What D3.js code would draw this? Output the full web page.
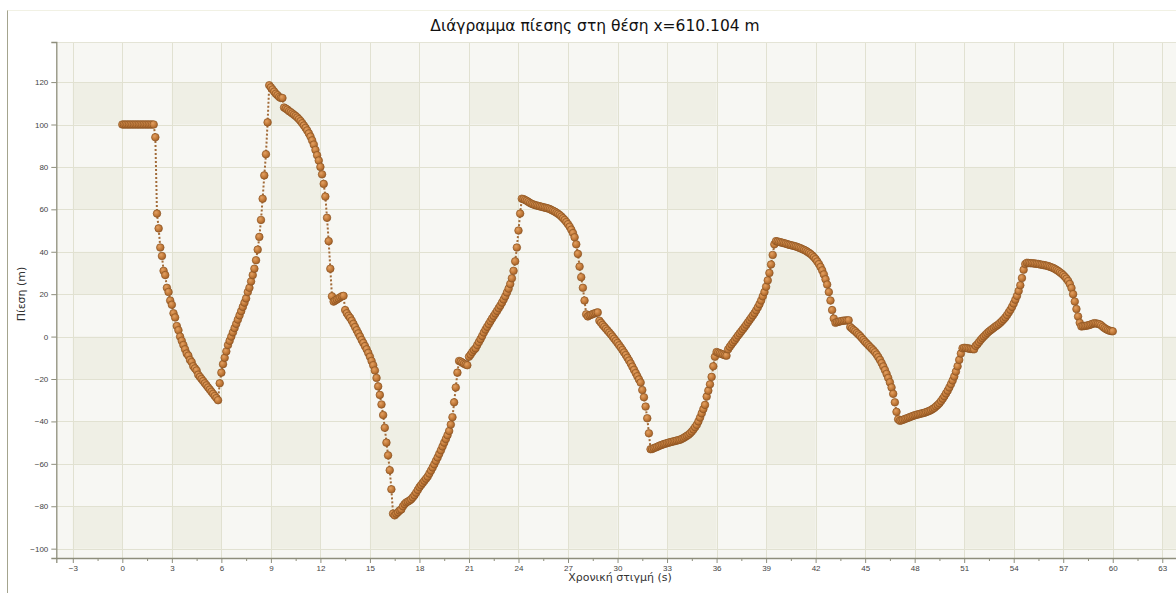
<!DOCTYPE html>
<html>
<head>
<meta charset="utf-8">
<script src="https://cdn.jsdelivr.net/npm/d3@7"></script>
<style>
  html, body { margin: 0; padding: 0; background: #ffffff; }
  svg { display: block; }
</style>
</head>
<body>
<svg id="chart"></svg>
<script>
// chart texts
const chartTitle = 'Διάγραμμα πίεσης στη θέση x=610.104 m'
const xLabel = 'Χρονική στιγμή (s)'
const yLabel = 'Πίεση (m)'

// sampling step of the pressure series (s)
const timeStep = 0.1

// pressure head (m), one row per second
const pressure = [
  100, 100, 100, 100, 100, 100, 100, 100, 100, 100,
  100, 100, 100, 100, 100, 100, 100, 100, 100, 100,
  94, 58, 51, 42, 38, 31, 29, 23, 21, 17,
  15, 11, 9, 5, 3, 0, -2, -4, -6, -8,
  -9, -11, -12, -14, -15, -16, -18, -19, -20, -21,
  -22, -23, -24, -25, -26, -27, -28, -29, -30, -22,
  -17, -13, -10, -7, -4, -2, 0, 2, 4, 6,
  8, 10, 12, 14, 16, 18, 21, 23, 26, 29,
  32, 36, 41, 47, 55, 65, 76, 86, 101, 118.5,
  117.5, 116.5, 115.5, 114.5, 113.8, 113, 112.5, 112.5, 108, 107.5,
  107, 106.3, 105.8, 105.2, 104.6, 104, 103.3, 102.5, 101.6, 100.6,
  99.5, 98.4, 97.2, 95.8, 94.3, 92.5, 90.5, 88, 85.5, 83,
  80, 76.5, 72, 66, 56, 45, 32, 19, 16.5, 17,
  17.5, 18, 18.5, 19, 19.2, 12.5, 11, 9.8, 8.8, 7.5,
  6, 4.5, 3, 1.5, 0, -1.6, -3, -4.5, -6, -7.7,
  -9.5, -11.5, -13.5, -16, -19.5, -23.5, -27.5, -32, -37, -43,
  -50, -56, -63, -72, -83.5, -84.3, -83.5, -82.8, -82, -81.5,
  -80, -79, -78.2, -77.8, -77.3, -76.7, -75.8, -74.8, -73.6, -72.3,
  -71, -70, -69, -68, -67, -66, -64.6, -63.2, -61.7, -60.2,
  -58.6, -57, -55.3, -53.6, -51.8, -50, -48.3, -46.5, -44.5, -41.5,
  -38, -31, -24, -17, -11.5, -11.8, -12.3, -12.8, -13.2, -13.5,
  -9.5, -8.5, -7.3, -6.3, -5.5, -4, -2.6, -1.2, 0.3, 1.9,
  3.3, 4.6, 5.9, 7.2, 8.5, 9.7, 10.9, 12.1, 13.4, 14.6,
  16, 17.5, 19, 20.8, 22.6, 24.8, 27.5, 31, 35.5, 42,
  50, 58, 65, 64.8, 64.4, 64, 63.5, 63, 62.6, 62.3,
  62, 61.8, 61.6, 61.4, 61.2, 61, 60.8, 60.6, 60.4, 60.1,
  59.7, 59.3, 58.9, 58.4, 57.9, 57.3, 56.6, 55.8, 55, 54,
  53, 51.8, 50.4, 48.8, 46.8, 43.5, 39, 33, 28, 23,
  17, 10.5, 9.5, 10, 10.3, 10.6, 10.9, 11.2, 11.4, 7.5,
  6.5, 5.5, 4.6, 3.7, 2.8, 1.9, 1, 0, -1, -2,
  -3, -4.1, -5.2, -6.3, -7.5, -8.7, -10, -11.3, -12.7, -14.2,
  -15.7, -17.2, -18.7, -20.2, -21.7, -25.2, -28.6, -33, -38.5, -45.6,
  -53.1, -53, -52.6, -52.3, -52, -51.6, -51.3, -51, -50.7, -50.5,
  -50.2, -50, -49.8, -49.6, -49.4, -49.2, -49, -48.8, -48.6, -48.2,
  -47.8, -47.3, -46.8, -46.3, -45.6, -44.8, -43.8, -42.7, -41.6, -40,
  -38.2, -36.2, -34.2, -32.2, -28.3, -25.5, -22.5, -19, -14, -9.5,
  -7.3, -7.6, -7.9, -8.2, -8.5, -8.8, -9, -6, -4.8, -3.7,
  -2.7, -1.7, -0.6, 0.5, 1.5, 2.5, 3.5, 4.5, 5.6, 6.7,
  7.8, 8.9, 10, 11.1, 12.4, 13.8, 15.3, 17, 19, 21,
  23.5, 26.5, 30, 34, 38.5, 43.5, 45, 44.8, 44.6, 44.4,
  44.2, 44, 43.8, 43.5, 43.3, 43.1, 42.9, 42.7, 42.5, 42.2,
  41.9, 41.6, 41.2, 40.9, 40.5, 40, 39.5, 38.9, 38.2, 37.4,
  36.5, 35.4, 34.2, 32.8, 31.2, 29.3, 27, 24.5, 21, 17,
  12.5, 8.5, 6.5, 6.8, 7, 7.2, 7.4, 7.5, 7.6, 7.6,
  7.7, 4.5, 3.8, 3.1, 2.5, 1.7, 1, 0.2, -0.7, -1.6,
  -2.5, -3.3, -4.1, -4.9, -5.7, -6.5, -7.4, -8.5, -9.7, -11,
  -12.5, -14.1, -15.8, -17.6, -19.5, -21.6, -24, -27, -31, -35.5,
  -39, -39.7, -39.5, -39.2, -38.9, -38.6, -38.3, -38, -37.7, -37.4,
  -37.1, -36.9, -36.7, -36.5, -36.3, -36.1, -35.9, -35.6, -35.3, -35,
  -34.6, -34.1, -33.6, -32.9, -32.2, -31.4, -30.4, -29.3, -28.1, -26.8,
  -25.5, -24, -22.4, -20.7, -18.8, -16.5, -14, -11, -8, -5.5,
  -5.3, -5.4, -5.5, -5.7, -5.8, -5.9, -6, -4.4, -3.6, -2.6,
  -1.6, -0.7, 0.1, 0.9, 1.7, 2.4, 3, 3.6, 4.2, 4.8,
  5.3, 5.9, 6.6, 7.4, 8.2, 9.1, 10.2, 11.4, 12.6, 14,
  15.6, 17.4, 19.2, 21.5, 24.2, 27.6, 31.5, 34.2, 34.8, 34.7,
  34.6, 34.6, 34.5, 34.4, 34.3, 34.2, 34, 33.9, 33.7, 33.6,
  33.4, 33.2, 32.9, 32.6, 32.3, 31.9, 31.4, 30.9, 30.3, 29.7,
  29, 28.2, 27.3, 26.2, 24.8, 22.9, 20, 16.5, 13, 9.5,
  6.5, 4.8, 4.9, 5, 5.1, 5.3, 5.5, 5.8, 6.1, 6.3,
  6.2, 6, 5.8, 5.3, 4.6, 4, 3.5, 3.1, 2.8, 2.6,
  2.5
]

// axis ticks
const xTicks = [-3, 0, 3, 6, 9, 12, 15, 18, 21, 24, 27, 30, 33, 36, 39, 42, 45, 48, 51, 54, 57, 60, 63]
const xMinorTicks = [-1.5, 1.5, 4.5, 7.5, 10.5, 13.5, 16.5, 19.5, 22.5, 25.5, 28.5, 31.5, 34.5, 37.5, 40.5, 43.5, 46.5, 49.5, 52.5, 55.5, 58.5, 61.5]
const yTicks = [-100, -80, -60, -40, -20, 0, 20, 40, 60, 80, 100, 120]
const xDomain = [-4, 64]
const yDomain = [-104.4, 138.9]

/* CONFIG */
const config = {
  width: 1176,
  height: 593,
  plot: { left: 56.3, top: 42, bottom: 558, unitX: 16.507 },
  lightCell: '#f7f7f3',
  darkCell: '#efefe5',
  grid: '#e1e1d1',
  axis: '#8e8e7c',
  text: '#444444'
}

const svg = d3.select('#chart')
  .attr('width', config.width)
  .attr('height', config.height)

const plotRight = config.plot.left + (xDomain[1] - xDomain[0]) * config.plot.unitX

const x = d3.scaleLinear().domain(xDomain).range([config.plot.left, plotRight])
const y = d3.scaleLinear().domain(yDomain).range([config.plot.bottom, config.plot.top])

const defs = svg.append('defs')
defs.append('clipPath').attr('id', 'plotclip')
  .append('rect')
  .attr('x', config.plot.left).attr('y', config.plot.top)
  .attr('width', plotRight - config.plot.left)
  .attr('height', config.plot.bottom - config.plot.top)

const grad = defs.append('radialGradient').attr('id', 'ball')
  .attr('cx', '38%').attr('cy', '35%').attr('r', '65%')
grad.append('stop').attr('offset', '0%').attr('stop-color', '#e3a062')
grad.append('stop').attr('offset', '60%').attr('stop-color', '#c37b3a')
grad.append('stop').attr('offset', '100%').attr('stop-color', '#a5622a')

// frame lines of the window
svg.append('line')
  .attr('x1', 7.5).attr('x2', 7.5).attr('y1', 10).attr('y2', config.height)
  .attr('stroke', '#a4a48e').attr('stroke-width', 1)
svg.append('line')
  .attr('x1', 7.5).attr('x2', config.width).attr('y1', 10.5).attr('y2', 10.5)
  .attr('stroke', '#f1f1e4').attr('stroke-width', 1)

// background checker: dark where a shaded column meets a shaded row
const plotArea = svg.append('g').attr('clip-path', 'url(#plotclip)')
plotArea.append('rect')
  .attr('x', config.plot.left).attr('y', config.plot.top)
  .attr('width', plotRight - config.plot.left)
  .attr('height', config.plot.bottom - config.plot.top)
  .attr('fill', config.lightCell)

const colBands = d3.range(-3, 66, 6)
const rowBands = d3.range(-100, 140, 40)
const cells = []
colBands.forEach(c => rowBands.forEach(r => cells.push({ c, r })))
plotArea.selectAll('rect.cell')
  .data(cells)
  .join('rect')
  .attr('class', 'cell')
  .attr('x', d => x(d.c))
  .attr('y', d => y(d.r + 20))
  .attr('width', d => x(d.c + 3) - x(d.c))
  .attr('height', d => y(d.r) - y(d.r + 20))
  .attr('fill', config.darkCell)

// grid
plotArea.selectAll('line.vgrid')
  .data(xTicks)
  .join('line')
  .attr('class', 'vgrid')
  .attr('x1', d => Math.round(x(d)) + 0.5).attr('x2', d => Math.round(x(d)) + 0.5)
  .attr('y1', config.plot.top).attr('y2', config.plot.bottom)
  .attr('stroke', config.grid)
plotArea.selectAll('line.hgrid')
  .data(yTicks)
  .join('line')
  .attr('class', 'hgrid')
  .attr('x1', config.plot.left).attr('x2', plotRight)
  .attr('y1', d => Math.round(y(d)) + 0.5).attr('y2', d => Math.round(y(d)) + 0.5)
  .attr('stroke', config.grid)
svg.append('line')
  .attr('x1', config.plot.left).attr('x2', plotRight)
  .attr('y1', config.plot.top + 0.5).attr('y2', config.plot.top + 0.5)
  .attr('stroke', '#e4e4d6')

// series
const points = pressure.map((p, i) => ({ t: i * timeStep, p }))

plotArea.append('path')
  .datum(points)
  .attr('d', d3.line().x(d => x(d.t)).y(d => y(d.p)))
  .attr('fill', 'none')
  .attr('stroke', '#a26b38')
  .attr('stroke-width', 2)
  .attr('stroke-dasharray', '2,2')

plotArea.selectAll('circle.pt')
  .data(points)
  .join('circle')
  .attr('class', 'pt')
  .attr('cx', d => x(d.t))
  .attr('cy', d => y(d.p))
  .attr('r', 3.8)
  .attr('fill', 'url(#ball)')
  .attr('stroke', '#8c5422')
  .attr('stroke-width', 0.7)

// axes
const xAxis = svg.append('g')
  .attr('transform', `translate(0,${config.plot.bottom})`)
  .call(d3.axisBottom(x).tickValues(xTicks).tickSize(5).tickPadding(2).tickFormat(d3.format('d')))
svg.append('g')
  .attr('transform', `translate(0,${config.plot.bottom})`)
  .call(d3.axisBottom(x).tickValues(xMinorTicks).tickSize(3).tickFormat(''))
  .call(g => g.select('.domain').remove())
  .call(g => g.selectAll('line').attr('stroke', config.axis))

const yAxis = svg.append('g')
  .attr('transform', `translate(${config.plot.left},0)`)
  .call(d3.axisLeft(y).tickValues(yTicks).tickSize(5).tickPadding(3).tickFormat(d3.format('d')))

;[xAxis, yAxis].forEach(g => {
  g.select('.domain').attr('stroke', config.axis).attr('stroke-width', 1.3)
  g.selectAll('.tick line').attr('stroke', config.axis)
  g.selectAll('.tick text')
    .attr('fill', config.text)
    .style('font-family', '"Liberation Sans", sans-serif')
    .style('font-size', '8px')
})

// titles
svg.append('text')
  .attr('x', 595).attr('y', 30.5)
  .attr('text-anchor', 'middle')
  .style('font-family', '"DejaVu Sans", sans-serif')
  .style('font-size', '15.5px')
  .attr('fill', '#111')
  .text(chartTitle)

svg.append('text')
  .attr('x', 620).attr('y', 581)
  .attr('text-anchor', 'middle')
  .style('font-family', '"DejaVu Sans", sans-serif')
  .style('font-size', '11px')
  .attr('fill', '#333')
  .text(xLabel)

svg.append('text')
  .attr('transform', 'translate(25,294) rotate(-90)')
  .attr('text-anchor', 'middle')
  .style('font-family', '"DejaVu Sans", sans-serif')
  .style('font-size', '11px')
  .attr('fill', '#333')
  .text(yLabel)
</script>
</body>
</html>
